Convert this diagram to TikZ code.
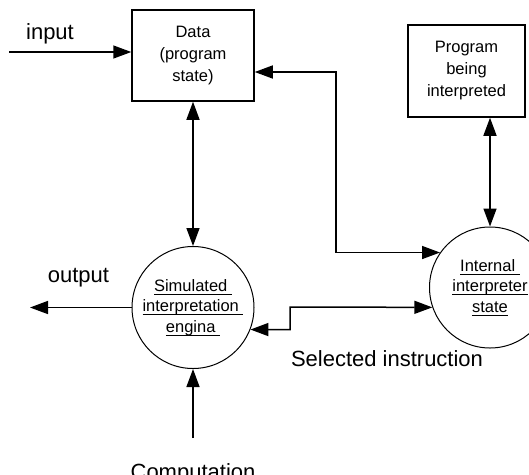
\documentclass[tikz,border=0pt]{standalone}
\usepackage{fontspec}
\setmainfont{Liberation Sans}
\usetikzlibrary{arrows.meta}
\newcommand\myul[1]{\setbox0=\hbox{#1}\rlap{\vrule height -2.4pt depth 3.7pt width \wd0}\box0}
\tikzset{
  boxnode/.style={draw, line width=1.5pt, inner sep=0pt, align=center, font=\fontsize{16.5}{22}\selectfont},
  circnode/.style={draw, circle, line width=1pt, inner sep=0pt, align=center, font=\fontsize{16.5}{20.5}\selectfont},
  lbl/.style={font=\fontsize{22}{26}\selectfont, anchor=base, inner sep=0pt},
  tipA/.tip={Triangle[length=18pt,width=13pt]},
  arr/.style={line width=1.5pt, -tipA},
  darr/.style={line width=1.5pt, tipA-tipA},
}
\begin{document}
\begin{tikzpicture}[x=1pt, y=-1pt]
\clip (0,0) rectangle (529,474);
\fill[white] (0,0) rectangle (529,474);
% nodes
\node[boxnode, minimum width=122pt, minimum height=91pt] (data) at (193,55.5) {Data\\(program\\state)};
\node[boxnode, minimum width=117pt, minimum height=92pt] (prog) at (466.5,71) {Program\\being\\interpreted};
\node[circnode, minimum size=122pt] (sim) at (193,307.5) {\myul{Simulated\ }\\\myul{interpretation\ }\\\myul{engina\ }};
\node[circnode, minimum size=121pt] (int) at (490,287.5) {\myul{Internal\ }\\\myul{interpreter}\\\myul{state}};
% labels
\node[lbl] (linput) at (50,39) {input};
\node[lbl] (loutput) at (78.5,282) {output};
\node[lbl] (lsel) at (387,366.5) {Selected instruction};
\node[lbl] (lcomp) at (193,479) {Computation};
% coordinates
\coordinate (inS) at (9,52);
\coordinate (outE) at (30,307.5);
\coordinate (compS) at (193,438);
\coordinate (j1) at (336,72);
\coordinate (j2) at (290,307);
% connectors
\draw[arr] (inS) -- (inS -| data.west);
\draw[darr] (data.south) -- (sim.north);
\draw[darr] (prog.south -| int.north) -- (int.north);
\draw[darr] (int.145) -| (j1) -- (j1 -| data.east);
\draw[darr] (sim.-21) -| (j2) -- (int.199);
\draw[arr] (sim.west) -- (outE);
\draw[arr] (compS) -- (sim.south);
\end{tikzpicture}
\end{document}
